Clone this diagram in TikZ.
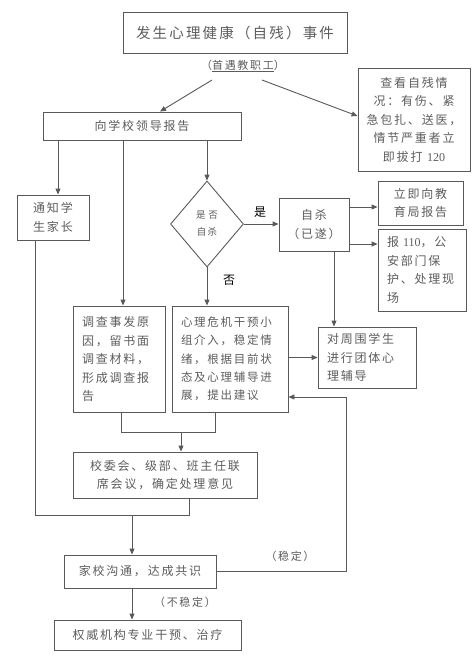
\documentclass[tikz,border=0pt]{standalone}
\usepackage{fontspec}
\setmainfont[LetterSpace=15]{Noto Sans CJK SC}
\newfontfamily\digf{Liberation Serif}
\usetikzlibrary{arrows.meta,shapes.geometric,calc}
\definecolor{linec}{gray}{0.35}
\definecolor{textc}{gray}{0.36}
\begin{document}
\begin{tikzpicture}[x=1pt,y=1pt,
  box/.style={draw=linec, line width=0.9pt, text=textc, inner sep=0pt, align=center,
    font=\fontsize{12}{18.5}\selectfont},
  lbox/.style={draw=linec, line width=0.9pt, text=textc, inner ysep=0pt, inner xsep=9pt, align=left,
    font=\fontsize{12}{18.5}\selectfont},
  lbl/.style={text=textc, inner sep=1pt, font=\fontsize{11}{14}\selectfont},
  arr/.style={draw=linec, line width=0.9pt, -{Triangle[length=6pt,width=5pt]}},
  ln/.style={draw=linec, line width=0.9pt}]
\useasboundingbox (0,0) rectangle (476,-657);
\node[box, minimum width=224, minimum height=41, font=\fontsize{14.5}{16}\selectfont] (title) at (235,-32.5) {发生心理健康（自残）事件};
\node[lbl] (shou) at (243,-66) {（\underline{首遇教职工}）};
\node[box, minimum width=112, minimum height=103] (check) at (414,-119.5) {查看自残情\\况：有伤、紧\\急包扎、送医，\\情节严重者立\\即拔打 {\digf 120}};
\node[box, minimum width=198, minimum height=28] (lead) at (142,-126) {向学校领导报告};
\node[box, minimum width=72, minimum height=45] (notify) at (53,-217.5) {通知学\\生家长};
\node[lbox, text width=74, minimum height=106] (invest) at (119,-359) {调查事发原\\因，留书面\\调查材料，\\形成调查报\\告};
\node[diamond, draw=linec, line width=0.9pt, minimum width=73, minimum height=86, inner sep=0pt, text=textc, font=\fontsize{9.5}{17}\selectfont, align=center] (dia) at (207,-224) {是\hspace{3pt}否\\自杀};
\node[box, minimum width=70, minimum height=53] (sui) at (314,-224.5) {自杀\\（已遂）};
\node[box, minimum width=85, minimum height=44] (imm) at (420.5,-203) {立即向教\\育局报告};
\node[lbox, text width=70, minimum height=82] (police) at (422,-270) {报 {\digf 110}，公\\安部门保\\护、处理现\\场};
\node[lbox, text width=98, minimum height=106, font=\fontsize{11.5}{18.3}\selectfont] (psy) at (230,-359) {心理危机干预小\\组介入，稳定情\\绪，根据目前状\\态及心理辅导进\\展，提出建议};
\node[lbox, text width=80, minimum height=61] (peer) at (367,-357.5) {对周围学生\\进行团体心\\理辅导};
\node[box, minimum width=184, minimum height=46] (meet) at (165,-475) {校委会、级部、班主任联\\席会议，确定处理意见};
\node[box, minimum width=152, minimum height=33] (home) at (140,-571.5) {家校沟通，达成共识};
\node[box, minimum width=187, minimum height=30] (auth) at (147.5,-635) {权威机构专业干预、治疗};
\node[font=\fontsize{12}{14}\selectfont, inner sep=0pt] (yes) at (260,-212) {是};
\node[font=\fontsize{12}{14}\selectfont, inner sep=0pt] (no) at (229,-280) {否};
\node[lbl] (stable) at (290,-556) {（稳定）};
\node[lbl] (unstable) at (185,-602) {（不稳定）};
% connectors
\coordinate (s1) at (212,-80);
\coordinate (s2) at (262,-80);
\draw[arr] (s1) -- ([xshift=18]lead.north);
\draw[arr] (s2) -- ([yshift=3.5]check.west);
\draw[arr] ([xshift=5]notify.north |- lead.south) -- ([xshift=5]notify.north);
\draw[arr] ([xshift=4]invest.north |- lead.south) -- ([xshift=4]invest.north);
\draw[arr] (dia.north |- lead.south) -- (dia.north);
\draw[arr] (dia.east) -- (sui.west |- dia.east);
\coordinate (a1) at ([yshift=-4]imm.west);
\draw[arr] (sui.east |- a1) -- (a1);
\coordinate (a2) at (police.west |- 0,-244);
\draw[arr] (sui.east |- a2) -- (a2);
\draw[arr] (dia.south) -- (dia.south |- psy.north);
\draw[arr] ([xshift=20]sui.south) -- ([xshift=20]sui.south |- peer.north);
\draw[arr] (psy.east |- peer.west) -- (peer.west);
\coordinate (lp) at (346,-397);
\draw[arr] (home.east) -| (lp) -- (psy.east |- lp);
\coordinate (j1) at (181,-432);
\draw[ln] ([xshift=2]invest.south) -- ([xshift=2]invest.south |- j1) -- ([xshift=-15]psy.south |- j1) -- ([xshift=-15]psy.south);
\draw[arr] (j1) -- (j1 |- meet.north);
\coordinate (j2) at (132,-515);
\draw[ln] ([xshift=-18]notify.south) -- ([xshift=-18]notify.south |- j2) -- ([xshift=24]meet.south |- j2) -- ([xshift=24]meet.south);
\draw[arr] (j2) -- (j2 |- home.north);
\draw[arr] ([xshift=-8]home.south) -- ([xshift=-8]home.south |- auth.north);
\end{tikzpicture}
\end{document}
